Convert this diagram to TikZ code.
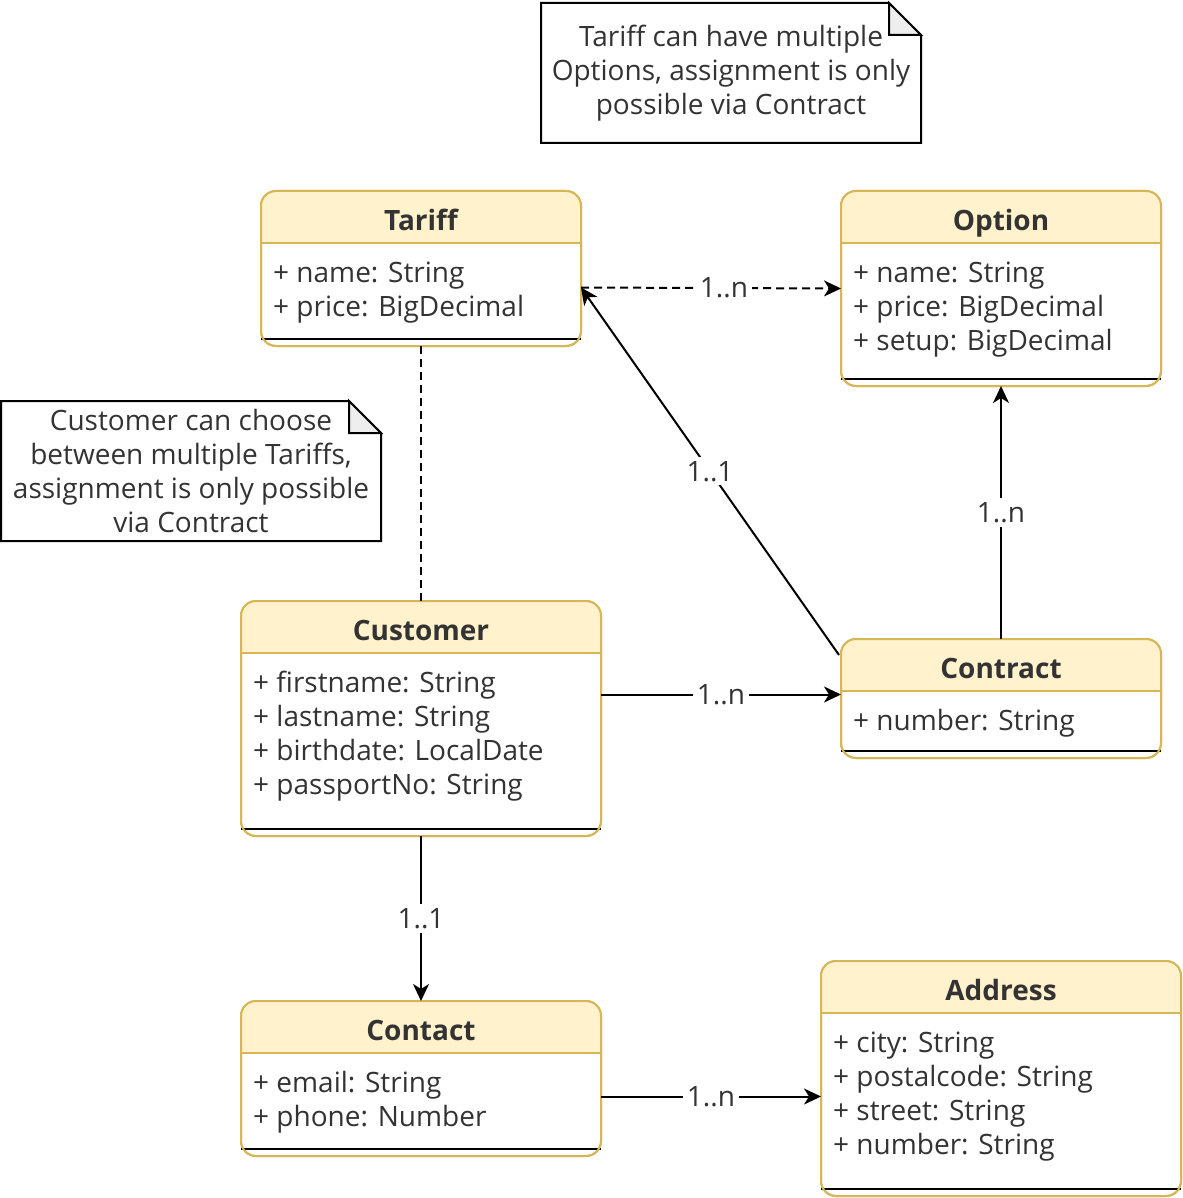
\documentclass[tikz,border=0pt]{standalone}
\usepackage{fontspec}
\setmainfont{Open Sans}
\usetikzlibrary{arrows.meta}
\definecolor{headfill}{HTML}{FFF2CC}
\definecolor{headedge}{HTML}{D6B656}
\definecolor{textgray}{HTML}{333333}
\definecolor{foldgray}{HTML}{EEEEEE}
\begin{document}
\begin{tikzpicture}[x=1pt, y=-1pt,
    classbox/.style={draw=headedge, line width=2pt, fill=white, rounded corners=15pt, inner sep=0pt, outer sep=0pt},
    classedge/.style={draw=headedge, line width=2pt, rounded corners=15pt},
    classsep/.style={draw=black, line width=2pt},
    title/.style={text=textgray, font=\fontsize{28}{34}\selectfont\bfseries, inner sep=0pt, anchor=base},
    item/.style={text=textgray, font=\fontsize{28}{34}\selectfont, inner sep=0pt, anchor=base west},
    notebox/.style={text=textgray, font=\fontsize{28}{34}\selectfont, align=center, inner sep=0pt, outer sep=0pt},
    noteedge/.style={draw=black, line width=2pt, line join=miter},
    assoc/.style={line width=2pt, -{Stealth[length=17pt, width=16pt, inset=5pt]}},
    link/.style={line width=2pt, dash pattern=on 8pt off 5pt},
    mult/.style={fill=white, text=textgray, font=\fontsize{28}{34}\selectfont, inner sep=4pt}]
    \useasboundingbox (0,0) rectangle (1182,1198);

    % Note: Tariff / Options
    \node[notebox, minimum width=380pt, minimum height=140pt] (notetariff) at (731,73)
        {Tariff can have multiple\\Options, assignment is only\\possible via Contract};
    \draw[noteedge] (notetariff.north west) -- ([xshift=-32pt]notetariff.north east)
        -- ([yshift=-32pt]notetariff.north east) -- (notetariff.south east)
        -- (notetariff.south west) -- cycle;
    \filldraw[noteedge, fill=foldgray] ([xshift=-32pt]notetariff.north east)
        -- ([xshift=-32pt, yshift=-32pt]notetariff.north east) -- ([yshift=-32pt]notetariff.north east) -- cycle;

    % Note: Customer / Tariffs
    \node[notebox, minimum width=380pt, minimum height=140pt] (notecustomer) at (191,471)
        {Customer can choose\\between multiple Tariffs,\\assignment is only possible\\via Contract};
    \draw[noteedge] (notecustomer.north west) -- ([xshift=-32pt]notecustomer.north east)
        -- ([yshift=-32pt]notecustomer.north east) -- (notecustomer.south east)
        -- (notecustomer.south west) -- cycle;
    \filldraw[noteedge, fill=foldgray] ([xshift=-32pt]notecustomer.north east)
        -- ([xshift=-32pt, yshift=-32pt]notecustomer.north east) -- ([yshift=-32pt]notecustomer.north east) -- cycle;

    % Tariff
    \node[classbox, minimum width=320pt, minimum height=155pt] (tariff) at (421,268.5) {};
    \begin{scope}
        \clip ([yshift=-52pt]tariff.north west) rectangle (tariff.north east);
        \fill[headfill, rounded corners=15pt] (tariff.south west) rectangle (tariff.north east);
    \end{scope}
    \draw[classedge] ([yshift=-52pt]tariff.north west) -- ([yshift=-52pt]tariff.north east);
    \draw[classsep] ([yshift=7pt]tariff.south west) -- ([yshift=7pt]tariff.south east);
    \draw[classedge] (tariff.south west) rectangle (tariff.north east);
    \node[title] (tariff-t) at (421,230) {Tariff};
    \node[item] (tariff-1) at (273,282) {+ name: String};
    \node[item] (tariff-2) at (273,316) {+ price: BigDecimal};

    % Option
    \node[classbox, minimum width=320pt, minimum height=195pt] (option) at (1001,288.5) {};
    \begin{scope}
        \clip ([yshift=-52pt]option.north west) rectangle (option.north east);
        \fill[headfill, rounded corners=15pt] (option.south west) rectangle (option.north east);
    \end{scope}
    \draw[classedge] ([yshift=-52pt]option.north west) -- ([yshift=-52pt]option.north east);
    \draw[classsep] ([yshift=7pt]option.south west) -- ([yshift=7pt]option.south east);
    \draw[classedge] (option.south west) rectangle (option.north east);
    \node[title] (option-t) at (1001,230) {Option};
    \node[item] (option-1) at (853,282) {+ name: String};
    \node[item] (option-2) at (853,316) {+ price: BigDecimal};
    \node[item] (option-3) at (853,350) {+ setup: BigDecimal};

    % Customer
    \node[classbox, minimum width=360pt, minimum height=235pt] (customer) at (421,718.5) {};
    \begin{scope}
        \clip ([yshift=-52pt]customer.north west) rectangle (customer.north east);
        \fill[headfill, rounded corners=15pt] (customer.south west) rectangle (customer.north east);
    \end{scope}
    \draw[classedge] ([yshift=-52pt]customer.north west) -- ([yshift=-52pt]customer.north east);
    \draw[classsep] ([yshift=7pt]customer.south west) -- ([yshift=7pt]customer.south east);
    \draw[classedge] (customer.south west) rectangle (customer.north east);
    \node[title] (customer-t) at (421,640) {Customer};
    \node[item] (customer-1) at (253,692) {+ firstname: String};
    \node[item] (customer-2) at (253,726) {+ lastname: String};
    \node[item] (customer-3) at (253,760) {+ birthdate: LocalDate};
    \node[item] (customer-4) at (253,794) {+ passportNo: String};

    % Contract
    \node[classbox, minimum width=320pt, minimum height=119pt] (contract) at (1001,698.5) {};
    \begin{scope}
        \clip ([yshift=-52pt]contract.north west) rectangle (contract.north east);
        \fill[headfill, rounded corners=15pt] (contract.south west) rectangle (contract.north east);
    \end{scope}
    \draw[classedge] ([yshift=-52pt]contract.north west) -- ([yshift=-52pt]contract.north east);
    \draw[classsep] ([yshift=7pt]contract.south west) -- ([yshift=7pt]contract.south east);
    \draw[classedge] (contract.south west) rectangle (contract.north east);
    \node[title] (contract-t) at (1001,678) {Contract};
    \node[item] (contract-1) at (853,730) {+ number: String};

    % Contact
    \node[classbox, minimum width=360pt, minimum height=155pt] (contact) at (421,1078.5) {};
    \begin{scope}
        \clip ([yshift=-52pt]contact.north west) rectangle (contact.north east);
        \fill[headfill, rounded corners=15pt] (contact.south west) rectangle (contact.north east);
    \end{scope}
    \draw[classedge] ([yshift=-52pt]contact.north west) -- ([yshift=-52pt]contact.north east);
    \draw[classsep] ([yshift=7pt]contact.south west) -- ([yshift=7pt]contact.south east);
    \draw[classedge] (contact.south west) rectangle (contact.north east);
    \node[title] (contact-t) at (421,1040) {Contact};
    \node[item] (contact-1) at (253,1092) {+ email: String};
    \node[item] (contact-2) at (253,1126) {+ phone: Number};

    % Address
    \node[classbox, minimum width=360pt, minimum height=235pt] (address) at (1001,1078.5) {};
    \begin{scope}
        \clip ([yshift=-52pt]address.north west) rectangle (address.north east);
        \fill[headfill, rounded corners=15pt] (address.south west) rectangle (address.north east);
    \end{scope}
    \draw[classedge] ([yshift=-52pt]address.north west) -- ([yshift=-52pt]address.north east);
    \draw[classsep] ([yshift=7pt]address.south west) -- ([yshift=7pt]address.south east);
    \draw[classedge] (address.south west) rectangle (address.north east);
    \node[title] (address-t) at (1001,1000) {Address};
    \node[item] (address-1) at (833,1052) {+ city: String};
    \node[item] (address-2) at (833,1086) {+ postalcode: String};
    \node[item] (address-3) at (833,1120) {+ street: String};
    \node[item] (address-4) at (833,1154) {+ number: String};

    % Connectors
    \draw[link, -{Stealth[length=17pt, width=16pt, inset=5pt]}] ([yshift=-19pt]tariff.east) -- (option.west)
        node[mult, pos=0.55] {1..n};
    \draw[link] (tariff.south) -- (customer.north);
    \draw[assoc] ([yshift=-16pt, xshift=-2pt]contract.north west) -- ([yshift=-19pt]tariff.east)
        node[mult, midway] {1..1};
    \draw[assoc] (contract.north) -- (option.south)
        node[mult, midway] {1..n};
    \coordinate (customerout) at ([yshift=24pt]customer.east);
    \draw[assoc] (customerout) -- (customerout -| contract.west)
        node[mult, midway] {1..n};
    \draw[assoc] (customer.south) -- (contact.north)
        node[mult, midway] {1..1};
    \coordinate (contactout) at ([yshift=-18pt]contact.east);
    \draw[assoc] (contactout) -- (contactout -| address.west)
        node[mult, midway] {1..n};
\end{tikzpicture}
\end{document}
